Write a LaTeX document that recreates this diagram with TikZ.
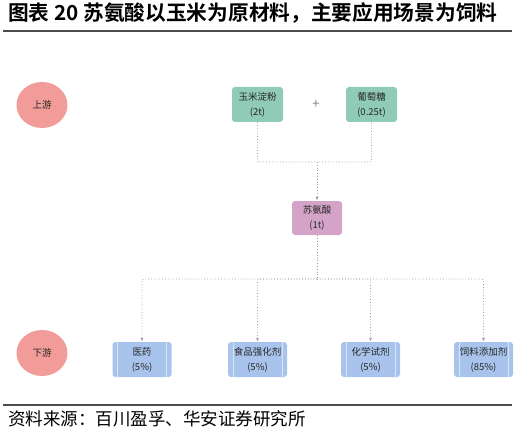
\documentclass[tikz,border=0pt]{standalone}
\usepackage{fontspec}
\newfontfamily\cjk{Noto Sans CJK SC}[BoldFont={Noto Sans CJK SC Bold}]
\usetikzlibrary{
  arrows.meta,
  positioning,
  shapes.geometric
}
\definecolor{streampink}{HTML}{F29C99}
\definecolor{rawgreen}{HTML}{90CBB8}
\definecolor{acidpurple}{HTML}{D3A4C8}
\definecolor{appblue}{HTML}{A9C4EC}
\definecolor{appline}{HTML}{D8E5F7}
\definecolor{linkgray}{HTML}{A0A0A0}
\definecolor{textgray}{HTML}{262626}
\definecolor{rulegray}{HTML}{4D4D4D}

\begin{document}
\begin{tikzpicture}[x=1pt, y=-1pt,
  stream/.style={ellipse, fill=streampink, minimum width=51pt, minimum height=46pt,
    inner sep=0pt, text=textgray, font=\cjk\fontsize{9.5}{11}\selectfont},
  rawbox/.style={rectangle, rounded corners=3pt, minimum width=51pt, minimum height=35pt,
    inner sep=0pt, align=center, text=textgray, font=\cjk\fontsize{9.5}{15}\selectfont},
  appbox/.style={rawbox, minimum width=59pt, fill=appblue,
    path picture={
      \draw[appline, line width=0.8pt]
        ([xshift=5pt]path picture bounding box.north west) -- ([xshift=5pt]path picture bounding box.south west);
      \draw[appline, line width=0.8pt]
        ([xshift=-5pt]path picture bounding box.north east) -- ([xshift=-5pt]path picture bounding box.south east);
    }},
  link/.style={draw=linkgray, dotted, line width=0.8pt, rounded corners=2pt},
  arrowlink/.style={-{Latex[length=4pt,width=3pt]}}
]
\useasboundingbox (0,0) rectangle (531,436);

% title and rules
\node[anchor=west, inner sep=0pt, font=\cjk\bfseries\fontsize{20.7}{24}\selectfont] (title) at (8,13)
  {图表 20 苏氨酸以玉米为原材料，主要应用场景为饲料};
\draw[rulegray, line width=1.2pt] (3,31) -- (512,31);
\draw[rulegray, line width=1.2pt] (3,405) -- (512,405);
\node[anchor=west, inner sep=0pt, font=\cjk\fontsize{17.5}{20}\selectfont] (source) at (8,419)
  {资料来源：百川盈孚、华安证券研究所};

% stream labels
\node[stream] (up)   at (42,105) {上游};
\node[stream] (down) at (42,353) {下游};

% raw materials
\node[rawbox, fill=rawgreen] (starch)  at (257.5,104.5) {玉米淀粉\\(2t)};
\node[text=gray, font=\cjk\fontsize{13}{15}\selectfont] (plus) at (316,104) {+};
\node[rawbox, fill=rawgreen] (glucose) at (371.5,104.5) {葡萄糖\\(0.25t)};

% product
\node[rawbox, fill=acidpurple, minimum width=50pt, minimum height=34pt] (thr) at (317,218) {苏氨酸\\(1t)};

% applications
\node[appbox] (med)  at (142,359.5)   {医药\\(5\%)};
\node[appbox] (food) at (257.5,359.5) {食品强化剂\\(5\%)};
\node[appbox] (chem) at (370.5,359.5) {化学试剂\\(5\%)};
\node[appbox] (feed) at (483.5,359.5) {饲料添加剂\\(85\%)};

% dotted connectors
\coordinate (merge)  at (317,162);
\coordinate (branch) at (317,279);
\draw[link] (starch.south) |- (merge) -| (glucose.south);
\draw[link, arrowlink] (merge) -- (thr.north);
\draw[link] (thr.south) -- (branch);
\foreach \n in {med, food, chem, feed} {
  \draw[link, arrowlink] (branch) -| (\n.north);
}
\end{tikzpicture}
\end{document}
